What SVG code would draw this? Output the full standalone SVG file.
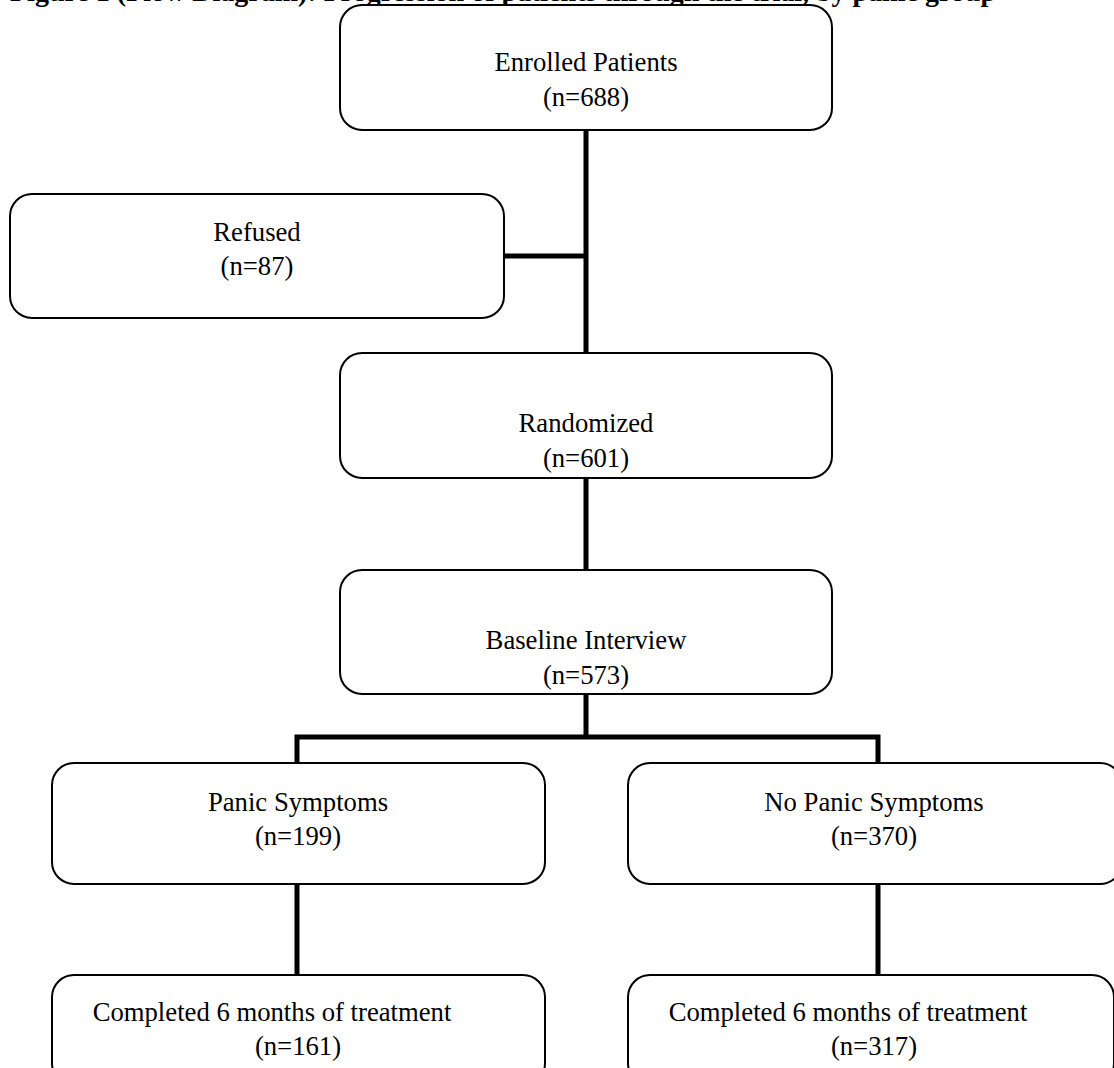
<svg xmlns="http://www.w3.org/2000/svg" width="1114" height="1068" viewBox="0 0 1114 1068">
<style>
.box{fill:#fff;stroke:#000;stroke-width:2}
.t{font-family:"Liberation Serif","Times New Roman",serif;font-size:26.7px;fill:#000;text-anchor:middle}
.c{stroke:#000;stroke-width:5;fill:none}
.title{font-family:"Liberation Serif","Times New Roman",serif;font-size:28px;font-weight:bold;fill:#000}
</style>
<rect width="1114" height="1068" fill="#fff"/>
<text class="title" x="10" y="1">Figure 1 (Flow Diagram): Progression of patients through the trial, by panic group</text>
<g id="connectors">
<path class="c" d="M586 130 V353 M504 256 H586 M586 478 V570 M586 694 V737 M297 763 V737 H878 V763 M297 884 V975 M878 884 V975"/>
</g>
<g id="enrolled"><rect class="box" x="340" y="5" width="492" height="125" rx="22"/>
<text class="t" x="586" y="71">Enrolled Patients</text><text class="t" x="586" y="106">(n=688)</text></g>
<g id="refused"><rect class="box" x="10" y="194" width="494" height="124" rx="22"/>
<text class="t" x="257" y="241">Refused</text><text class="t" x="257" y="275">(n=87)</text></g>
<g id="randomized"><rect class="box" x="340" y="353" width="492" height="125" rx="22"/>
<text class="t" x="586" y="432">Randomized</text><text class="t" x="586" y="467">(n=601)</text></g>
<g id="baseline"><rect class="box" x="340" y="570" width="492" height="124" rx="22"/>
<text class="t" x="586" y="649">Baseline Interview</text><text class="t" x="586" y="684">(n=573)</text></g>
<g id="panic"><rect class="box" x="52" y="763" width="493" height="121" rx="22"/>
<text class="t" x="298" y="811">Panic Symptoms</text><text class="t" x="298" y="845">(n=199)</text></g>
<g id="nopanic"><rect class="box" x="628" y="763" width="494" height="121" rx="22"/>
<text class="t" x="874" y="811">No Panic Symptoms</text><text class="t" x="874" y="845">(n=370)</text></g>
<g id="completed-panic"><rect class="box" x="52" y="975" width="493" height="110" rx="22"/>
<text class="t" x="272" y="1021">Completed 6 months of treatment</text><text class="t" x="298" y="1055">(n=161)</text></g>
<g id="completed-nopanic"><rect class="box" x="628" y="975" width="486" height="110" rx="22"/>
<text class="t" x="848" y="1021">Completed 6 months of treatment</text><text class="t" x="874" y="1055">(n=317)</text></g>
</svg>
